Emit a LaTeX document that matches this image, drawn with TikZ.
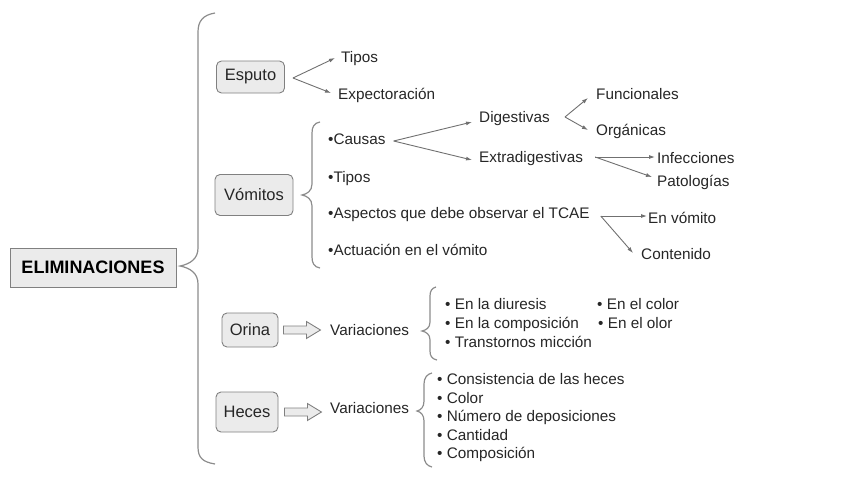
\documentclass[tikz,border=0pt]{standalone}
\usepackage{fontspec}
\setmainfont{Liberation Sans}
\usetikzlibrary{arrows.meta,calc}
\definecolor{tx}{HTML}{262626}
\definecolor{ln}{HTML}{707070}
\definecolor{br}{HTML}{8C8C8C}
\definecolor{bx}{HTML}{808080}
\definecolor{bf}{HTML}{EBEBEB}
\begin{document}
\begin{tikzpicture}[x=1pt,y=-1pt,
  txt/.style={anchor=west, inner xsep=3pt, inner ysep=0pt, text height=12pt, text depth=2pt, font=\fontsize{15.3}{17}\selectfont, text=tx},
  box/.style={draw=bx, fill=bf, rounded corners=5pt, line width=0.9pt, inner sep=0pt, font=\fontsize{16.5}{19}\selectfont, text=tx},
  mainbox/.style={draw=bx, fill=bf, line width=0.9pt, inner sep=0pt, minimum width=166pt, minimum height=39pt, font=\fontsize{18}{21}\selectfont\bfseries, text=black},
  arr/.style={draw=ln, line width=0.9pt, -{Latex[length=6pt,width=4pt]}},
  brc/.style={draw=br, line width=1.2pt},
  blk/.style={draw=bx, fill=bf, line width=0.9pt, line join=miter},
]
\useasboundingbox (0,0) rectangle (848,477);

% main box
\node[mainbox] (elim) at (93,267.5) {ELIMINACIONES};

% big brace
\draw[brc] (215,13) .. controls (203,15) and (198,21) .. (198,32) -- (198,248) .. controls (198,259) and (190,264) .. (180,266) .. controls (190,268) and (198,273) .. (198,284) -- (198,447) .. controls (198,458) and (203,462) .. (215,464);

% level-1 boxes
\node[box, minimum width=68pt, minimum height=32pt] (esputo) at (250.5,77) {Esputo};
\node[box, minimum width=78pt, minimum height=41pt] (vomitos) at (254,195) {Vómitos};
\node[box, minimum width=56pt, minimum height=34pt] (orina) at (250,330) {Orina};
\node[box, minimum width=62pt, minimum height=40pt] (heces) at (247,412) {Heces};

% Esputo
\node[txt] (tipos) at (338,57) {Tipos};
\node[txt] (expec) at (335,94) {Expectoración};
\coordinate (e0) at ($(esputo.east)+(8,1)$);
\draw[arr] (e0) -- ($(tipos.west)+(-3,1)$);
\draw[arr] (e0) -- ($(expec.west)+(-4,-1)$);

% Vómitos brace
\draw[brc] (320,122) .. controls (314,123) and (312,127) .. (312,133) -- (312,184) .. controls (312,191) and (307,194) .. (302,195) .. controls (307,196) and (312,199) .. (312,206) -- (312,257) .. controls (312,263) and (314,267) .. (320,268);

\node[txt] (causas) at (325,139) {•Causas};
\node[txt] (vtipos) at (325,177) {•Tipos};
\node[txt] (aspec) at (325,213) {•Aspectos que debe observar el TCAE};
\node[txt] (actua) at (325,250) {•Actuación en el vómito};

\node[txt] (dig) at (476,117) {Digestivas};
\node[txt] (extra) at (476,157) {Extradigestivas};
\coordinate (c0) at ($(causas.east)+(5,2)$);
\draw[arr] (c0) -- ($(dig.west)+(-4,5)$);
\draw[arr] (c0) -- ($(extra.west)+(-4,3)$);

\node[txt] (func) at (593,94) {Funcionales};
\node[txt] (organ) at (593,130) {Orgánicas};
\coordinate (d0) at ($(dig.east)+(12,0)$);
\draw[arr] (d0) -- ($(func.west)+(-5,4)$);
\draw[arr] (d0) -- ($(organ.west)+(-5,0)$);

\node[txt] (infec) at (654,158) {Infecciones};
\node[txt] (pato) at (654,181) {Patologías};
\coordinate (x0) at ($(extra.east)+(9,0)$);
\draw[arr] (x0) -- ($(infec.west)+(1,-1)$);
\draw[arr] (x0) -- ($(pato.west)+(-2,-4)$);

\node[txt] (envom) at (645,218) {En vómito};
\node[txt] (conte) at (638,254) {Contenido};
\coordinate (t0) at ($(aspec.east)+(8,3)$);
\draw[arr] (t0) -- ($(envom.west)+(2,-2)$);
\draw[arr] (t0) -- ($(conte.west)+(-5,-1)$);

% Orina
\draw[blk] ($(orina.east)+(5,-4)$) -- ++(23,0) -- ++(0,-4.5) -- ++(14,8.5) -- ++(-14,8.5) -- ++(0,-4.5) -- ++(-23,0) -- cycle;
\node[txt] (ovar) at (327,330) {Variaciones};
\draw[brc] (436,287) .. controls (432,288) and (430,291) .. (430,296) -- (430,322) .. controls (430,328) and (426,330) .. (422,331) .. controls (426,332) and (430,334) .. (430,340) -- (430,351) .. controls (430,356) and (432,359) .. (437,360);
\node[txt] (o1) at (442,304) {• En la diuresis};
\node[txt] (o2) at (442,323) {• En la composición};
\node[txt] (o3) at (442,342) {• Transtornos micción};
\node[txt] (o4) at (594,304) {• En el color};
\node[txt] (o5) at (595,323) {• En el olor};

% Heces
\draw[blk] ($(heces.east)+(6,-4)$) -- ++(23,0) -- ++(0,-4.5) -- ++(14,8.5) -- ++(-14,8.5) -- ++(0,-4.5) -- ++(-23,0) -- cycle;
\node[txt] (hvar) at (327,408) {Variaciones};
\draw[brc] (432,373) .. controls (427,374) and (424,378) .. (424,384) -- (424,401) .. controls (424,407) and (421,410) .. (417,411) .. controls (421,412) and (424,415) .. (424,421) -- (424,456) .. controls (424,462) and (427,466) .. (432,467);
\node[txt] (h1) at (434,379) {• Consistencia de las heces};
\node[txt] (h2) at (434,398) {• Color};
\node[txt] (h3) at (434,416) {• Número de deposiciones};
\node[txt] (h4) at (434,435) {• Cantidad};
\node[txt] (h5) at (434,453) {• Composición};
\end{tikzpicture}
\end{document}
